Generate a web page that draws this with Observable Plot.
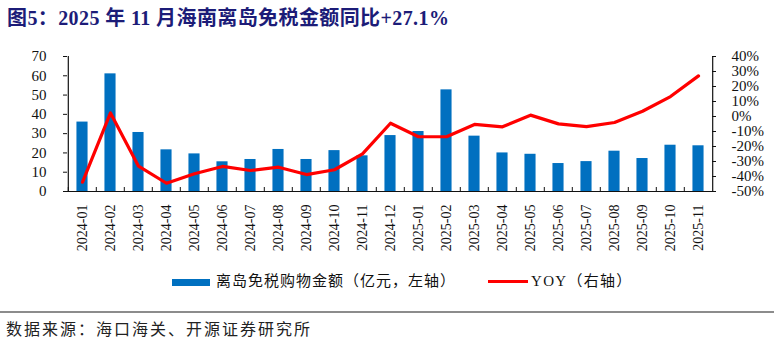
<!DOCTYPE html>
<html>
<head>
<meta charset="utf-8">
<script src="https://cdn.jsdelivr.net/npm/d3@7"></script>
<script src="https://cdn.jsdelivr.net/npm/@observablehq/plot@0.6"></script>
<style>
  html, body { margin: 0; padding: 0; background: #fff; }
  #wrap { position: relative; width: 774px; height: 342px; overflow: hidden; background: #fff; }
  #title { position: absolute; left: 7px; top: 2px; font-family: "Liberation Serif", "Noto Sans CJK SC", serif; font-weight: bold; font-size: 20px; letter-spacing: 0.4px; color: #1c1c78; white-space: nowrap; }
  #chart { position: absolute; left: 0; top: 30px; }
  .leg { position: absolute; font-family: "Liberation Serif", "Noto Sans CJK SC", serif; font-size: 15px; color: #111; white-space: nowrap; line-height: 1; }
  #src { position: absolute; left: 6px; top: 320px; font-family: "Noto Sans CJK SC", sans-serif; font-size: 16px; color: #222; white-space: nowrap; letter-spacing: 2px; line-height: 1; }
  #srcline { position: absolute; left: 0; top: 311px; width: 774px; height: 2px; background: #8c8c8c; }
</style>
</head>
<body>
<div id="wrap">
  <div id="title">图5：2025 年 11 月海南离岛免税金额同比+27.1%</div>
  <div id="chart"></div>
  <div class="leg" style="left:172px;top:279px;width:38px;height:7px;background:#0070C0;"></div>
  <div class="leg" id="leg1" style="left:216px;top:274px;letter-spacing:1px;">离岛免税购物金额（亿元，左轴）</div>
  <div class="leg" style="left:488px;top:280px;width:40px;height:3px;background:#FF0000;"></div>
  <div class="leg" id="leg2" style="left:531px;top:274px;letter-spacing:1.3px;">YOY（右轴）</div>
  <div id="srcline"></div>
  <div id="src">数据来源：海口海关、开源证券研究所</div>
</div>
<script>
const months = ["2024-01","2024-02","2024-03","2024-04","2024-05","2024-06","2024-07","2024-08","2024-09","2024-10","2024-11","2024-12","2025-01","2025-02","2025-03","2025-04","2025-05","2025-06","2025-07","2025-08","2025-09","2025-10","2025-11"];
const sales = [36.0, 61.0, 30.6, 21.6, 19.5, 15.4, 16.6, 21.8, 16.6, 21.2, 18.5, 29.0, 31.1, 52.7, 28.7, 20.0, 19.3, 14.5, 15.5, 20.9, 17.1, 24.0, 23.7];
const yoy = [-43.8, 2.4, -33.1, -44.5, -38.2, -33.3, -36.0, -33.8, -38.7, -35.5, -24.9, -4.5, -13.5, -13.5, -5.3, -6.9, 0.9, -4.9, -6.7, -4.0, 3.5, 13.3, 27.1];
const leftTicks = [0, 10, 20, 30, 40, 50, 60, 70];
const rightTicks = [-50, -40, -30, -20, -10, 0, 10, 20, 30, 40];

const data = months.map((m, i) => ({month: m, sales: sales[i], yoy: yoy[i]}));

const W = 774, H = 236;
const mL = 63, mR = 58, mT = 26, mB = 75;
const plotW = W - mL - mR, plotH = H - mT - mB;
const step = plotW / months.length;
const barW = 11.5;
const inset = (step - barW) / 2;

const rMin = -50, rMax = 40, lMax = 70;
const toLeft = r => (r - rMin) * lMax / (rMax - rMin);
const fromLeft = v => Math.round(v * (rMax - rMin) / lMax + rMin);

const serif = "Liberation Serif, Times New Roman, serif";

const chart = Plot.plot({
  width: W, height: H,
  marginLeft: mL, marginRight: mR, marginTop: mT, marginBottom: mB,
  style: {background: "transparent", overflow: "visible", color: "#111"},
  x: {domain: months, padding: 0, axis: null},
  y: {domain: [0, lMax], axis: null},
  marks: [
    Plot.barY(data, {x: "month", y: "sales", fill: "#0070C0", insetLeft: inset, insetRight: inset}),
    Plot.line(data, {x: "month", y: d => toLeft(d.yoy), stroke: "#FF0000", strokeWidth: 3.2, strokeLinejoin: "round"}),
    Plot.ruleY([0], {stroke: "#111", strokeWidth: 1.2}),
    Plot.ruleX([months[0]], {dx: -step / 2, stroke: "#111", strokeWidth: 1.2}),
    Plot.ruleX([months[months.length - 1]], {dx: step / 2, stroke: "#111", strokeWidth: 1.2}),
    Plot.ruleX(months, {x: d => d, dx: -step / 2, insetTop: plotH - 4, stroke: "#111"}),
    Plot.ruleY(leftTicks, {y: d => d, insetRight: plotW - 4, stroke: "#111"}),
    Plot.ruleY(rightTicks, {y: d => toLeft(d), insetLeft: plotW - 4, stroke: "#111"}),
    Plot.axisY(leftTicks, {anchor: "left", tickSize: 0, tickPadding: 17, fontSize: 15, fontFamily: serif, label: null}),
    Plot.axisY(rightTicks.map(toLeft), {anchor: "right", tickSize: 0, tickPadding: 15, fontSize: 15, fontFamily: serif, tickFormat: v => fromLeft(v) + "%", label: null, textAnchor: "start"}),
    Plot.axisX({anchor: "bottom", tickSize: 0, tickRotate: -90, tickPadding: 13, fontSize: 14, fontFamily: serif, label: null})
  ]
});
document.getElementById("chart").appendChild(chart);
</script>
</body>
</html>
